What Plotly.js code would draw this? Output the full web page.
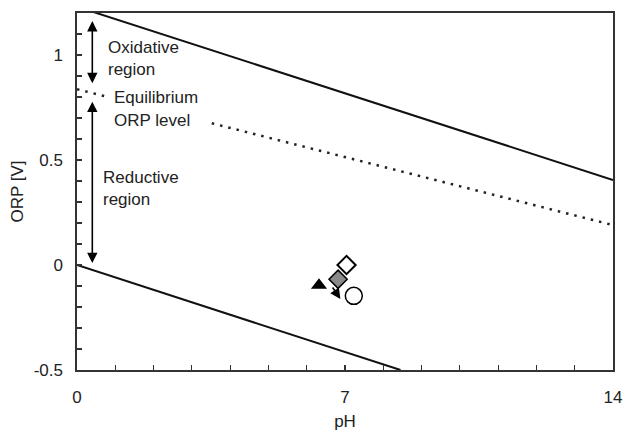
<!DOCTYPE html>
<html>
<head>
<meta charset="utf-8">
<script src="https://cdn.plot.ly/plotly-3.0.1.min.js"></script>
<style>html,body{margin:0;padding:0;background:#fff;}#chart{width:624px;height:431px;}</style>
</head>
<body>
<div id="chart"></div>
<script>
// Boundary lines (pH, ORP V)
var upperX = [0, 14];
var upperY = [1.23, 0.405];
var lowerX = [0, 8.45];
var lowerY = [0, -0.5];
// Equilibrium ORP level (dotted, broken by label)
var eqLeftX = [0, 0.81];
var eqLeftY = [0.837, 0.80];
var eqRightX = [3.52, 14];
var eqRightY = [0.675, 0.19];
// Sample points
var triX = [6.32], triY = [-0.096];
var grayDiaX = [6.82], grayDiaY = [-0.068];
var openDiaX = [7.04], openDiaY = [0.0];
var circX = [7.23], circY = [-0.147];
// Region arrows [x, yTop, yBottom]
var oxArrow = [0.40, 1.169, 0.866];
var redArrow = [0.40, 0.785, 0.009];
// Shift arrow [tailX, tailY, tipX, tipY]
var shiftArrow = [6.65, -0.10, 6.88, -0.162];
// Labels
var labelText = ['Oxidative', 'region', 'Equilibrium', 'ORP level', 'Reductive', 'region'];
var labelX = [0.76, 0.76, 0.91, 0.91, 0.63, 0.63];
var labelY = [1.035, 0.933, 0.796, 0.690, 0.416, 0.313];
var xTickVals = [0, 7, 14];
var yTickVals = [-0.5, 0, 0.5, 1];
var yTickText = ['-0.5', '0', '0.5', '1'];

var font = {family: 'Liberation Sans, Arial, sans-serif', size: 17, color: '#222'};

var traces = [
  {x: upperX, y: upperY, mode: 'lines', line: {color: '#111', width: 2}, hoverinfo: 'skip'},
  {x: lowerX, y: lowerY, mode: 'lines', line: {color: '#111', width: 2}, hoverinfo: 'skip'},
  {x: eqLeftX, y: eqLeftY, mode: 'lines', line: {color: '#222', width: 2.5, dash: '2.5px,6px'}, hoverinfo: 'skip'},
  {x: eqRightX, y: eqRightY, mode: 'lines', line: {color: '#222', width: 2.5, dash: '2.5px,6px'}, hoverinfo: 'skip'},
  {x: triX, y: triY, mode: 'markers', marker: {symbol: 'triangle-up', size: 14, color: '#000'}},
  {x: grayDiaX, y: grayDiaY, mode: 'markers', marker: {symbol: 'diamond', size: 14, color: '#8a8a8a', line: {color: '#000', width: 1.5}}},
  {x: openDiaX, y: openDiaY, mode: 'markers', marker: {symbol: 'diamond', size: 14, color: '#fff', line: {color: '#000', width: 2}}},
  {x: circX, y: circY, mode: 'markers', marker: {symbol: 'circle', size: 17, color: '#fff', line: {color: '#000', width: 1.5}}}
];

var annotations = [];
for (var i = 0; i < labelText.length; i++) {
  annotations.push({x: labelX[i], y: labelY[i], xref: 'x', yref: 'y', text: labelText[i],
    showarrow: false, xanchor: 'left', yanchor: 'middle', font: font});
}
[oxArrow, redArrow].forEach(function (a) {
  annotations.push({x: a[0], y: a[2], ax: a[0], ay: a[1], xref: 'x', yref: 'y', axref: 'x', ayref: 'y',
    text: '', showarrow: true, arrowhead: 2, arrowside: 'end+start', arrowsize: 1.3, arrowwidth: 1.6,
    arrowcolor: '#000', standoff: 0, startstandoff: 0});
});
annotations.push({x: shiftArrow[2], y: shiftArrow[3], ax: shiftArrow[0], ay: shiftArrow[1],
  xref: 'x', yref: 'y', axref: 'x', ayref: 'y', text: '', showarrow: true, arrowhead: 2,
  arrowsize: 1.3, arrowwidth: 1.6, arrowcolor: '#000', standoff: 0});

var layout = {
  width: 624, height: 431,
  margin: {l: 77, r: 11, t: 13, b: 61},
  paper_bgcolor: '#fff', plot_bgcolor: '#fff',
  showlegend: false,
  font: font,
  xaxis: {
    range: [0, 14], tickmode: 'array', tickvals: xTickVals,
    ticks: 'inside', ticklen: 5, tickwidth: 1.2, tickcolor: '#333',
    minor: {tickmode: 'linear', tick0: 0, dtick: 1, ticks: 'inside', ticklen: 5, tickwidth: 1.2, tickcolor: '#333'},
    showgrid: false, zeroline: false, showline: true, mirror: true, linecolor: '#333', linewidth: 1.6,
    ticklabelstandoff: 11,
    title: {text: 'pH', font: font, standoff: 13}
  },
  yaxis: {
    range: [-0.5, 1.2], tickmode: 'array', tickvals: yTickVals, ticktext: yTickText,
    ticks: 'inside', ticklen: 5, tickwidth: 1.2, tickcolor: '#333',
    minor: {tickmode: 'linear', tick0: 0, dtick: 0.1, ticks: 'inside', ticklen: 5, tickwidth: 1.2, tickcolor: '#333'},
    showgrid: false, zeroline: false, showline: true, mirror: true, linecolor: '#333', linewidth: 1.6,
    ticklabelstandoff: 9,
    title: {text: 'ORP [V]', font: font, standoff: 6}
  },
  annotations: annotations
};

Plotly.newPlot('chart', traces, layout, {displayModeBar: false, staticPlot: true});
</script>
</body>
</html>
